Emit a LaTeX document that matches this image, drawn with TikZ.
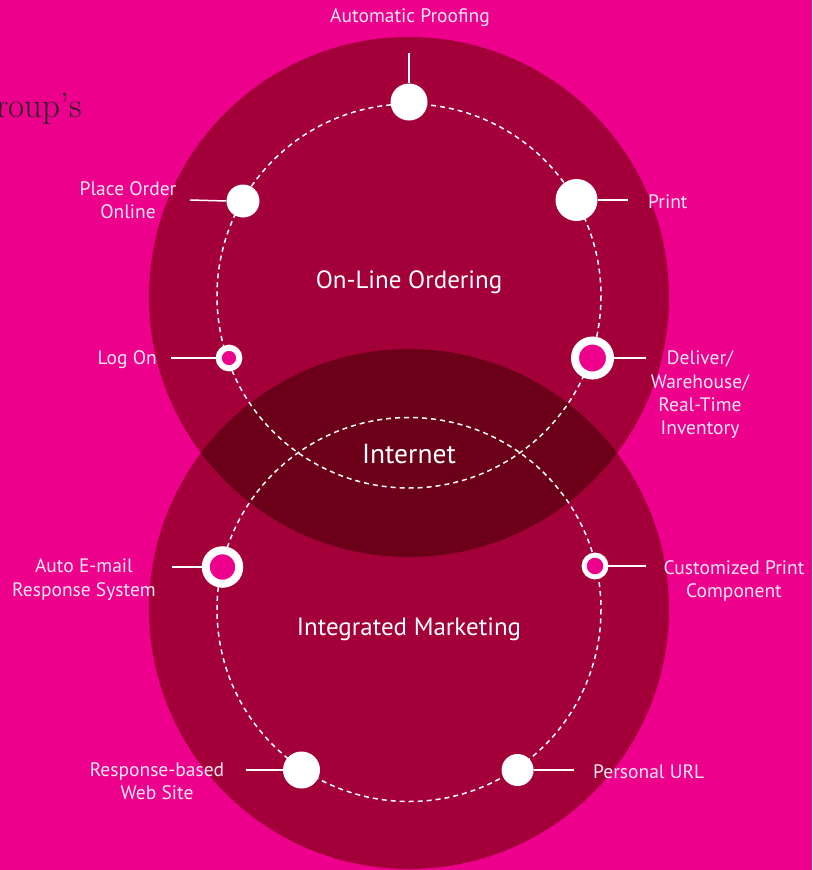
\documentclass[tikz,border=0pt]{standalone}
\usepackage{fontspec}
\setmainfont{PT Sans}
\newfontfamily\serifa{Latin Modern Roman}
\definecolor{bgmag}{HTML}{EC008C}
\definecolor{circ}{HTML}{A3003A}
\definecolor{overl}{HTML}{6D0019}
\definecolor{lbl}{HTML}{FCE6F2}
\definecolor{ink}{HTML}{2A2426}
\begin{document}
\begin{tikzpicture}[x=1pt,y=-1pt,
  dot/.style={circle,fill=white,inner sep=0pt,minimum size=#1},
  ring/.style 2 args={circle,draw=white,fill=bgmag,line width=#2,inner sep=0pt,minimum size=#1},
  conn/.style={white,line width=1.5pt},
  dashring/.style={white,line width=1.5pt,dash pattern=on 5pt off 4pt},
  lab/.style={text=lbl,font=\fontsize{19.5}{23.3}\selectfont,align=center,inner sep=0pt},
  big/.style={text=white,font=\fontsize{25}{29}\selectfont,inner sep=0pt}]
\fill[bgmag] (0,0) rectangle (812,870);
\useasboundingbox (0,0) rectangle (812,870);
% big circles
\fill[circ] (409,297) circle[radius=260];
\fill[circ] (409,609) circle[radius=260];
\begin{scope}
  \clip (409,297) circle[radius=260];
  \fill[overl] (409,609) circle[radius=260];
\end{scope}
% dashed circles
\draw[dashring] (409,296) circle[radius=192];
\draw[dashring] (409,609.5) circle[radius=192];
% partial title
\node[anchor=base west,inner sep=0pt,text=ink,font=\serifa\fontsize{35}{38}\selectfont] (title) at (-4,117) {roup’s};
% central labels
\node[big] (online) at (409,282) {On-Line Ordering};
\node[big,font=\fontsize{27.5}{31}\selectfont] (internet) at (409,454) {Internet};
\node[big] (intmkt) at (409,629) {Integrated Marketing};
% dots and rings
\node[dot=37pt] (proof) at (409,102) {};
\node[dot=33pt] (place) at (243,201) {};
\node[dot=42pt] (print) at (576.5,200) {};
\node[ring={20.6pt}{6pt}] (logon) at (229,358) {};
\node[ring={35pt}{8pt}] (deliver) at (592.5,358) {};
\node[ring={33.5pt}{8pt}] (auto) at (222.5,567) {};
\node[ring={21.8pt}{5pt}] (custom) at (595,566) {};
\node[dot=37pt] (resp) at (301.5,770) {};
\node[dot=32pt] (purl) at (517.6,770) {};
% connector ends
\coordinate (proofE) at (409,53);
\coordinate (placeE) at (190,200);
\coordinate (printE) at (628,200);
\coordinate (logonE) at (171,358);
\coordinate (deliverE) at (646,358);
\coordinate (autoE) at (172,567);
\coordinate (customE) at (646,566);
\coordinate (respE) at (246,770);
\coordinate (purlE) at (574,770);
% connectors
\draw[conn] (proof.north) -- (proofE);
\draw[conn] (place.west) -- (placeE);
\draw[conn] (print.east) -- (printE);
\draw[conn] (logon.west) -- (logonE);
\draw[conn] (deliver.east) -- (deliverE);
\draw[conn] (auto.west) -- (autoE);
\draw[conn] (custom.east) -- (customE);
\draw[conn] (resp.west) -- (respE);
\draw[conn] (purl.east) -- (purlE);
% labels
\node[lab] (proofL) at (410,18) {Automatic Proofing};
\node[lab] (placeL) at (128,200.5) {Place Order\\Online};
\node[lab,anchor=west] (printL) at (648,202) {Print};
\node[lab,anchor=east] (logonL) at (157,360) {Log On};
\node[lab] (deliverL) at (700,395) {Deliver/\\Warehouse/\\Real-Time\\Inventory};
\node[lab] (autoL) at (84,579.5) {Auto E-mail\\Response System};
\node[lab] (customL) at (734,581) {Customized Print\\Component};
\node[lab] (respL) at (157,781.5) {Response-based\\Web Site};
\node[lab,anchor=west] (purlL) at (593,772) {Personal URL};
\end{tikzpicture}
\end{document}
